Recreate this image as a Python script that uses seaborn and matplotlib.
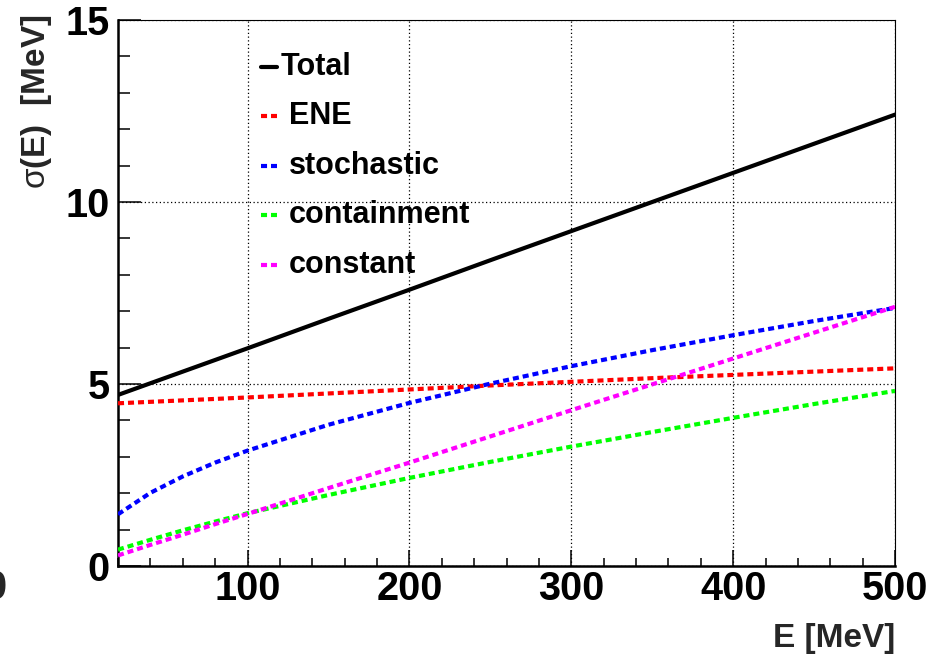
import numpy as np
import pandas as pd
import matplotlib
matplotlib.use("Agg")
import matplotlib.pyplot as plt
import seaborn as sns
from matplotlib.ticker import MultipleLocator, FixedLocator
from matplotlib.lines import Line2D

# ---- data ----
energy = [20, 40, 60, 80, 100, 150, 200, 250, 300, 350, 400, 450, 500]
total = [4.70, 5.02, 5.34, 5.66, 5.98, 6.79, 7.59, 8.40, 9.20, 10.00, 10.80, 11.60, 12.40]
ene = [4.47, 4.51, 4.55, 4.59, 4.63, 4.74, 4.85, 4.96, 5.06, 5.16, 5.25, 5.34, 5.43]
stochastic = [1.42, 2.01, 2.46, 2.84, 3.17, 3.88, 4.48, 5.01, 5.49, 5.93, 6.34, 6.73, 7.09]
containment = [0.45, 0.72, 0.98, 1.22, 1.45, 1.95, 2.42, 2.86, 3.28, 3.68, 4.07, 4.45, 4.81]
constant = [0.29, 0.58, 0.86, 1.15, 1.43, 2.14, 2.84, 3.56, 4.28, 4.99, 5.70, 6.41, 7.12]

series_names = ["Total", "ENE", "stochastic", "containment", "constant"]
series_values = [total, ene, stochastic, containment, constant]
series_colors = ["#000000", "#ff0000", "#0000ff", "#00ff00", "#ff00ff"]

x_ticks = [100, 200, 300, 400, 500]
y_ticks = [0, 5, 10, 15]

sns.set_theme(style="white")
plt.rcParams["font.family"] = ["Liberation Sans", "DejaVu Sans"]
plt.rcParams["font.weight"] = "bold"
plt.rcParams["mathtext.fontset"] = "custom"
plt.rcParams["mathtext.rm"] = "Liberation Sans:weight=normal"
plt.rcParams["mathtext.it"] = "Liberation Sans:weight=normal"
plt.rcParams["mathtext.default"] = "rm"

W, H = 940, 657
fig = plt.figure(figsize=(W / 100, H / 100), dpi=100)
L, R, T, B = 118, 895, 20, 566
ax = fig.add_axes([L / W, 1 - B / H, (R - L) / W, (B - T) / H])
ax.set_facecolor("white")

df = pd.DataFrame({"E": energy})
for name, vals in zip(series_names, series_values):
    df[name] = vals

lw = 3.0
dash = (0, (1.45, 0.95))
for name, col in zip(series_names, series_colors):
    ls = "-" if name == "Total" else dash
    sns.lineplot(data=df, x="E", y=name, ax=ax, color=col, linewidth=lw,
                 linestyle=ls, dash_capstyle="butt", zorder=3)

ax.set_xlim(20, 500)
ax.set_ylim(0, 15)
ax.xaxis.set_major_locator(FixedLocator(x_ticks))
ax.xaxis.set_minor_locator(MultipleLocator(20))
ax.yaxis.set_major_locator(FixedLocator(y_ticks))
ax.yaxis.set_minor_locator(MultipleLocator(1))
ax.set_xticklabels([str(v) for v in x_ticks])
ax.set_yticklabels([str(v) for v in y_ticks])
ax.set_xlabel("")
ax.set_ylabel("")

ax.grid(True, which="major", color="black", linestyle=(0, (1, 2)), linewidth=0.9, zorder=1)
ax.set_axisbelow(True)

ax.tick_params(axis="x", which="major", direction="in", length=11.5, width=1.1,
               labelsize=28.5, pad=3, bottom=True, top=False, colors="black")
ax.tick_params(axis="x", which="minor", direction="in", length=5.8, width=1.1,
               bottom=True, top=False, colors="black")
ax.tick_params(axis="y", which="major", direction="in", length=16.5, width=1.1,
               labelsize=28.5, pad=6, left=True, right=False, colors="black")
ax.tick_params(axis="y", which="minor", direction="in", length=8.3, width=1.1,
               left=True, right=False, colors="black")
for lab in ax.get_xticklabels() + ax.get_yticklabels():
    lab.set_fontweight("bold")

for s in ["left", "bottom"]:
    ax.spines[s].set_linewidth(1.8)
    ax.spines[s].set_color("black")
for s in ["top", "right"]:
    ax.spines[s].set_linewidth(0.8)
    ax.spines[s].set_color("black")

# ---- legend (no frame) ----
leg_rows_px = [67, 116, 166, 215, 265]
for i, (name, col) in enumerate(zip(series_names, series_colors)):
    yax = (B - leg_rows_px[i]) / (B - T)
    x0 = (261 - L) / (R - L)
    x1 = (277 - L) / (R - L)
    ls = "-" if name == "Total" else dash
    ln = Line2D([x0, x1], [yax, yax], transform=ax.transAxes, color=col,
                linewidth=lw, linestyle=ls, dash_capstyle="butt", clip_on=False, zorder=4)
    ax.add_line(ln)
    tx = 281 if name == "Total" else 289
    ax.text((tx - L) / (R - L), yax, name, transform=ax.transAxes, fontsize=22,
            fontweight="bold", ha="left", va="center", color="black", zorder=4)

# ---- axis titles ----
fig.text(37 / W, 1 - 15 / H, r"$\sigma$(E)  [MeV]", rotation=90, ha="center", va="top",
         fontsize=24, fontweight="bold")
fig.text(R / W, 1 - 638 / H, "E [MeV]", ha="right", va="center", fontsize=24,
         fontweight="bold")
# partially clipped label at the bottom-left edge (as in the reference)
fig.text(6 / W, 1 - 588 / H, "0", ha="right", va="center", fontsize=28.5, fontweight="bold")

fig.savefig("out.png", dpi=100, facecolor="white")
